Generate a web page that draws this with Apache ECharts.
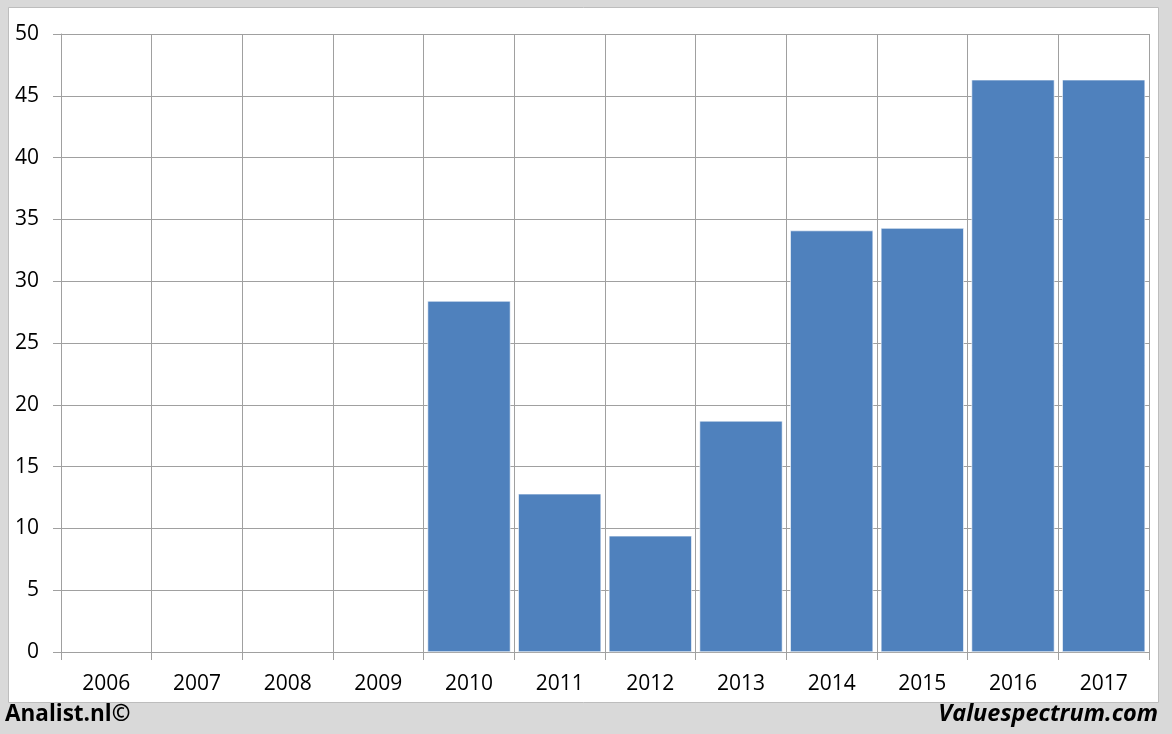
<!DOCTYPE html>
<html><head><meta charset="utf-8">
<script src="https://cdn.jsdelivr.net/npm/echarts@6/dist/echarts.min.js"></script>
<style>html,body{margin:0;padding:0;background:#d9d9d9;}#c{width:1172px;height:734px;}</style>
</head><body><div id="c"></div>
<script>
const categories = ['2006','2007','2008','2009','2010','2011','2012','2013','2014','2015','2016','2017'];
const values = [null,null,null,null,28.4,12.8,9.4,18.7,34.1,34.3,46.3,46.3];
const yTicks = {min:0,max:50,interval:5};
const FONT = '"Open Sans", "Liberation Sans", sans-serif';
const chart = echarts.init(document.getElementById('c'));
chart.setOption({
  animation:false,
  backgroundColor:'#d9d9d9',
  graphic:[
    {type:'rect',z:-10,shape:{x:8.5,y:7.5,width:1150,height:695},style:{fill:'#ffffff',stroke:'#bdbdbd',lineWidth:1}},
    {type:'text',left:5,top:703,style:{text:'Analist.nl©',font:'bold 22.5px '+FONT,fill:'#000'}},
    {type:'text',right:14,top:703,style:{text:'Valuespectrum.com',font:'italic bold 23.5px '+FONT,fill:'#000'}}
  ],
  grid:{left:61,right:23,top:34,bottom:82,containLabel:false},
  xAxis:{type:'category',data:categories,boundaryGap:true,
    axisLine:{show:true,lineStyle:{color:'#a0a0a0',width:1}},
    axisTick:{show:true,length:8,alignWithLabel:false,lineStyle:{color:'#a0a0a0'}},
    axisLabel:{color:'#000',fontSize:21,fontFamily:FONT,margin:22,interval:0},
    splitLine:{show:true,interval:0,lineStyle:{color:'#a0a0a0',width:1}}
  },
  yAxis:{type:'value',min:yTicks.min,max:yTicks.max,interval:yTicks.interval,
    axisLine:{show:true,lineStyle:{color:'#a0a0a0',width:1}},
    axisTick:{show:true,length:8,lineStyle:{color:'#a0a0a0'}},
    axisLabel:{color:'#000',fontSize:21,fontFamily:FONT,margin:22},
    splitLine:{show:true,lineStyle:{color:'#a0a0a0',width:1}}
  },
  series:[{type:'bar',data:values,barCategoryGap:'8.5%',
    itemStyle:{color:'#4f81bd',borderColor:'#ffffff',borderWidth:0.6}}]
});
</script></body></html>
